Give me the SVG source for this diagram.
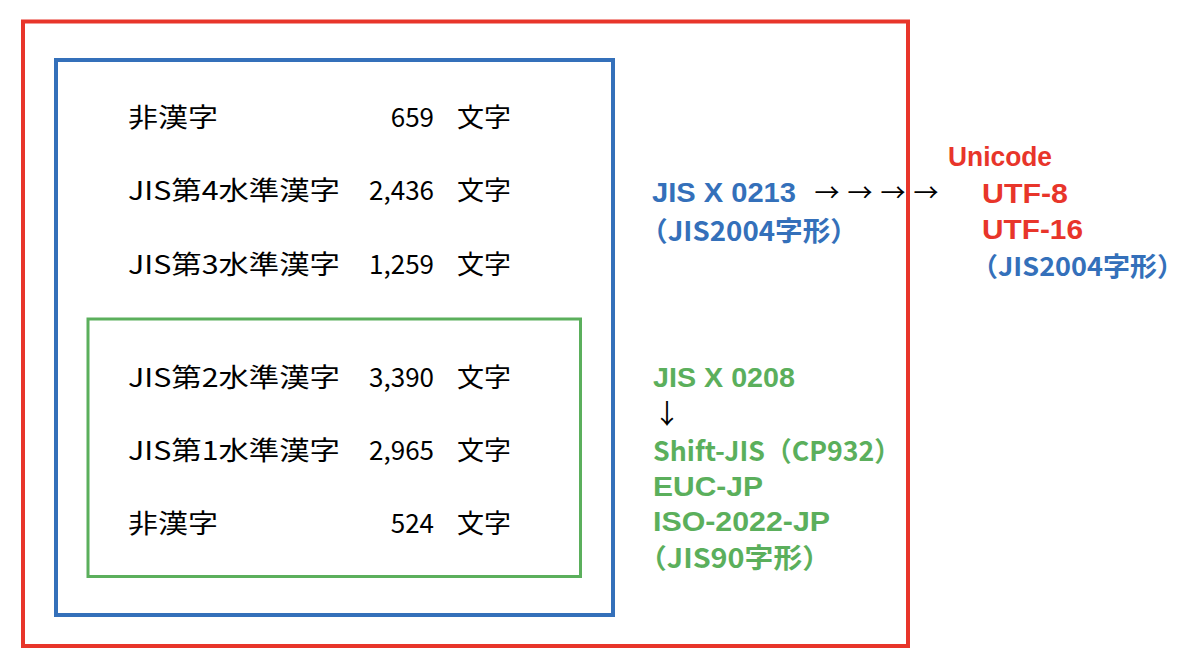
<svg xmlns="http://www.w3.org/2000/svg" width="1200" height="666" viewBox="0 0 1200 666">
<style>
.box{fill:none}
.lt{font-family:"Noto Sans CJK JP","Liberation Sans",sans-serif;font-size:26px;fill:#000}
.num{text-anchor:end}
.rt{font-family:"Noto Sans CJK JP","Liberation Sans",sans-serif;font-size:27px;font-weight:bold}
.lat{font-family:"Liberation Sans","Noto Sans CJK JP",sans-serif}
.blue{fill:#3470BA}
.red{fill:#E8352A}
.green{fill:#5BAF5C}
.arr{font-family:"Noto Sans CJK JP","DejaVu Sans",sans-serif;font-size:25px;fill:#000;text-anchor:middle}
</style>
<rect width="1200" height="666" fill="#fff"/>
<g id="unicode-box">
<rect class="box" x="23" y="21.5" width="885" height="624.5" stroke="#E8352A" stroke-width="4"/>
</g>
<g id="jisx0213-box">
<rect class="box" x="56" y="60" width="557" height="555" stroke="#3470BA" stroke-width="4"/>
</g>
<g id="jisx0208-box">
<rect class="box" x="88" y="319" width="492.5" height="257.5" stroke="#5BAF5C" stroke-width="3"/>
</g>
<g id="rows">
<text class="lt" x="128" y="127" textLength="90" lengthAdjust="spacingAndGlyphs">非漢字</text>
<text class="lt num" x="434" y="127">659</text>
<text class="lt" x="457" y="127" textLength="54" lengthAdjust="spacingAndGlyphs">文字</text>
<text class="lt" x="128" y="200" textLength="212" lengthAdjust="spacingAndGlyphs">JIS第4水準漢字</text>
<text class="lt num" x="434" y="200">2,436</text>
<text class="lt" x="457" y="200" textLength="54" lengthAdjust="spacingAndGlyphs">文字</text>
<text class="lt" x="128" y="274" textLength="212" lengthAdjust="spacingAndGlyphs">JIS第3水準漢字</text>
<text class="lt num" x="434" y="274">1,259</text>
<text class="lt" x="457" y="274" textLength="54" lengthAdjust="spacingAndGlyphs">文字</text>
<text class="lt" x="128" y="387" textLength="212" lengthAdjust="spacingAndGlyphs">JIS第2水準漢字</text>
<text class="lt num" x="434" y="387">3,390</text>
<text class="lt" x="457" y="387" textLength="54" lengthAdjust="spacingAndGlyphs">文字</text>
<text class="lt" x="128" y="460" textLength="212" lengthAdjust="spacingAndGlyphs">JIS第1水準漢字</text>
<text class="lt num" x="434" y="460">2,965</text>
<text class="lt" x="457" y="460" textLength="54" lengthAdjust="spacingAndGlyphs">文字</text>
<text class="lt" x="128" y="533" textLength="90" lengthAdjust="spacingAndGlyphs">非漢字</text>
<text class="lt num" x="434" y="533">524</text>
<text class="lt" x="457" y="533" textLength="54" lengthAdjust="spacingAndGlyphs">文字</text>
</g>
<g id="jisx0213-label">
<text class="rt lat blue" x="652" y="202" textLength="144" lengthAdjust="spacingAndGlyphs">JIS X 0213</text>
<text class="rt blue" x="640" y="241" textLength="218" lengthAdjust="spacingAndGlyphs">（JIS2004字形）</text>
</g>
<g id="connectors">
<text class="arr" x="827" y="202">→</text>
<text class="arr" x="860" y="202">→</text>
<text class="arr" x="893" y="202">→</text>
<text class="arr" x="926" y="202">→</text>
<text class="arr" x="667" y="424" style="font-size:27px">↓</text>
</g>
<g id="unicode-label">
<text class="rt lat red" x="948" y="166" textLength="104" lengthAdjust="spacingAndGlyphs">Unicode</text>
<text class="rt lat red" x="982" y="203" textLength="86" lengthAdjust="spacingAndGlyphs">UTF-8</text>
<text class="rt lat red" x="982" y="239" textLength="101" lengthAdjust="spacingAndGlyphs">UTF-16</text>
<text class="rt blue" x="971" y="276" textLength="213" lengthAdjust="spacingAndGlyphs" style="font-size:26px">（JIS2004字形）</text>
</g>
<g id="jisx0208-label">
<text class="rt lat green" x="653" y="387" textLength="142" lengthAdjust="spacingAndGlyphs">JIS X 0208</text>
<text class="rt green" x="653" y="461" textLength="248" lengthAdjust="spacingAndGlyphs">Shift-JIS（CP932）</text>
<text class="rt lat green" x="653" y="496" textLength="110" lengthAdjust="spacingAndGlyphs">EUC-JP</text>
<text class="rt lat green" x="653" y="531" textLength="177" lengthAdjust="spacingAndGlyphs">ISO-2022-JP</text>
<text class="rt green" x="638" y="568" textLength="193" lengthAdjust="spacingAndGlyphs">（JIS90字形）</text>
</g>
</svg>
